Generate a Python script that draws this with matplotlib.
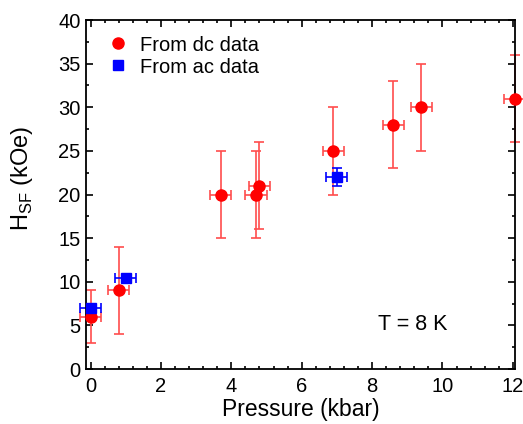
import numpy as np
import matplotlib.pyplot as plt
from matplotlib.ticker import MultipleLocator

plt.rcParams['font.family'] = ['Liberation Sans', 'DejaVu Sans']

# dc data
p_dc = [0.0, 0.8, 3.7, 4.7, 4.8, 6.9, 8.6, 9.4, 12.05]
h_dc = [6, 9, 20, 20, 21, 25, 28, 30, 31]
herr_dc = [3, 5, 5, 5, 5, 5, 5, 5, 5]
perr_dc = [0.3] * len(p_dc)

# ac data
p_ac = [0.0, 1.0, 7.0]
h_ac = [7, 10.4, 22]
herr_ac = [0.3, 0.3, 1]
perr_ac = [0.3, 0.3, 0.3]

fig = plt.figure(figsize=(5.23, 4.24), dpi=100)
ax = fig.add_axes([0.1644, 0.1297, 0.8203, 0.8231])

ax.errorbar(p_dc, h_dc, yerr=herr_dc, xerr=perr_dc, fmt='none',
            ecolor=(1, 0.3, 0.3), elinewidth=1.2, capsize=3.6, capthick=1.2, clip_on=False)
ax.errorbar(p_ac, h_ac, yerr=herr_ac, xerr=perr_ac, fmt='none',
            ecolor='blue', elinewidth=1.2, capsize=3.6, capthick=1.2, clip_on=False)
ax.plot(p_dc, h_dc, 'o', color='red', ms=8, ls='none', label='From dc data', clip_on=False, zorder=5)
ax.plot(p_ac, h_ac, 's', color='blue', ms=7.3, ls='none', label='From ac data', clip_on=False, zorder=5)

ax.set_xlim(-0.13, 12.06)
ax.set_ylim(0, 40)
ax.xaxis.set_major_locator(MultipleLocator(2))
ax.xaxis.set_minor_locator(MultipleLocator(0.4))
ax.yaxis.set_major_locator(MultipleLocator(5))
ax.yaxis.set_minor_locator(MultipleLocator(2.5))
ax.tick_params(which='both', direction='in', top=True, right=True, labelsize=14.5, width=1.2)
ax.tick_params(which='major', length=5)
ax.tick_params(which='minor', length=2.5)
ax.tick_params(axis='x', which='both', pad=6)
ax.tick_params(axis='y', which='both', pad=4)
for s in ax.spines.values():
    s.set_linewidth(1.3)

ax.set_xlabel('Pressure (kbar)', fontsize=16.5, labelpad=1)
ax.set_ylabel('H$_{\\mathregular{SF}}$ (kOe)', fontsize=17, va='center')
ax.yaxis.set_label_coords(-0.149, 0.546)
ax.text(8.16, 5.05, 'T = 8 K', fontsize=15.5, ha='left', va='center')

ax.legend(loc='upper left', bbox_to_anchor=(0.0513, 0.9556), frameon=False, fontsize=14.5,
          handlelength=1.0, handletextpad=0.6, borderpad=0, borderaxespad=0,
          labelspacing=0.15)

fig.savefig('out.png', dpi=100)
